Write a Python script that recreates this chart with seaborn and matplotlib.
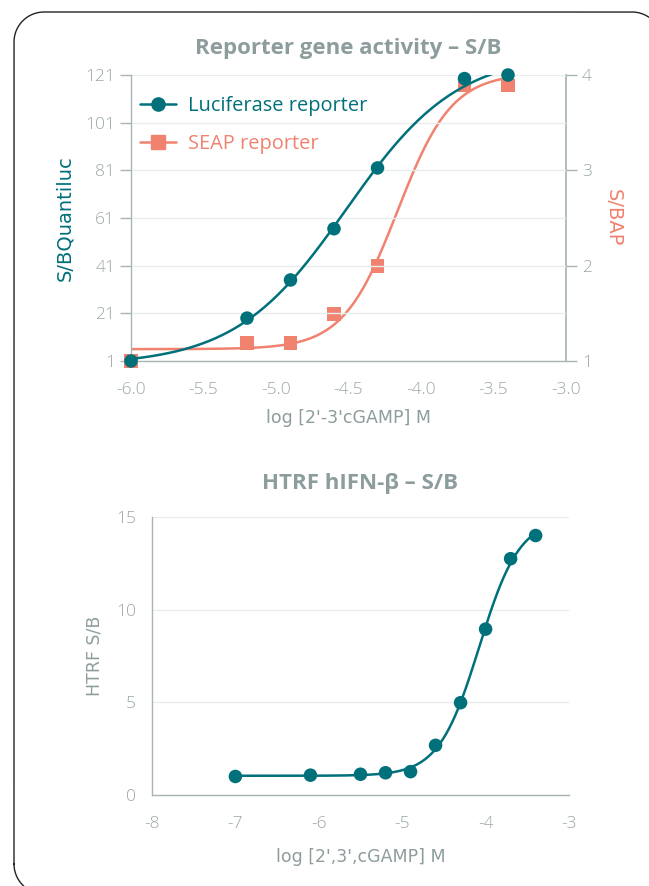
import numpy as np
import pandas as pd
import matplotlib
matplotlib.use('Agg')
import matplotlib.pyplot as plt
import seaborn as sns
from matplotlib.lines import Line2D

# Data

# top panel: reporter gene activity
reporter_log_conc = [-6.0, -5.2, -4.9, -4.6, -4.3, -3.7, -3.4]
luciferase_sb = [1, 19, 35, 56.5, 82, 119.5, 121]
seap_sb = [1.0, 1.19, 1.19, 1.49, 2.0, 3.89, 3.89]

# bottom panel: HTRF hIFN-beta
htrf_log_conc = [-7.0, -6.1, -5.5, -5.2, -4.9, -4.6, -4.3, -4.0, -3.7, -3.4]
htrf_sb = [1.0, 1.07, 1.12, 1.2, 1.26, 2.68, 4.98, 8.95, 12.75, 14.0]

left_ticks_top = [1, 21, 41, 61, 81, 101, 121]
right_ticks_top = [1, 2, 3, 4]
x_ticks_top = [-6.0, -5.5, -5.0, -4.5, -4.0, -3.5, -3.0]
x_ticks_bottom = [-8, -7, -6, -5, -4, -3]
y_ticks_bottom = [0, 5, 10, 15]

TEAL = '#00707a'
SALMON = '#f0826f'
GREY = '#8d9c9d'
TICK_GREY = '#9ba7a8'
SPINE = '#a9b4b5'
GRID = '#e9ecec'
LABEL_FONT = ['DejaVu Sans']
TICK_SIZE = 12.5


def fit_4pl(x, y):
    # four parameter logistic fit: grid over ec50/hill, bottom/top solved linearly
    x = np.asarray(x, float)
    y = np.asarray(y, float)
    ec = np.linspace(x.min(), x.max(), 400)[:, None, None]
    hill = np.linspace(0.3, 5.0, 300)[None, :, None]
    f = 1.0 / (1.0 + 10 ** ((ec - x) * hill))
    fm = f.mean(axis=-1, keepdims=True)
    ym = y.mean()
    c = ((f - fm) * (y - ym)).sum(-1, keepdims=True) / ((f - fm) ** 2).sum(-1, keepdims=True)
    b = ym - c * fm
    sse = ((b + c * f - y) ** 2).sum(-1)
    i, j = np.unravel_index(np.argmin(sse), sse.shape)
    return b[i, j, 0], c[i, j, 0], ec[i, 0, 0], hill[0, j, 0]


def curve(params, x0, x1):
    b, c, ec, h = params
    xs = np.linspace(x0, x1, 300)
    return pd.DataFrame({'x': xs, 'y': b + c / (1 + 10 ** ((ec - xs) * h))})


sns.set_theme(style='white')
plt.rcParams['font.family'] = ['Open Sans', 'DejaVu Sans']
plt.rcParams['axes.unicode_minus'] = False

W, H = 649, 886
fig = plt.figure(figsize=(W / 100, H / 100), dpi=100)

# rounded frame around the page, drawn in pixel coords (top-left origin)
left, top, right, bottom, r = 14, 12, 662, 894, 30
t = np.linspace(0, np.pi / 2, 30)
fx = np.concatenate([
    [left, left], left + r - r * np.cos(t),          # left edge up, top-left arc
    [left + r, right - r], right - r + r * np.sin(t),  # top edge, top-right arc
    [right, right], right - r + r * np.cos(t),        # right edge down, bottom-right arc
    [right - r, left + r], left + r - r * np.sin(t),  # bottom edge, bottom-left arc
])
fy = np.concatenate([
    [bottom - r, top + r], top + r - r * np.sin(t),
    [top, top], top + r - r * np.cos(t),
    [top + r, bottom - r], bottom - r + r * np.sin(t),
    [bottom, bottom], bottom - r + r * np.cos(t),
])
fig.add_artist(Line2D(fx / W, 1 - fy / H, transform=fig.transFigure,
                      color='#222222', linewidth=1.0))


def style_axis(ax):
    for side in ['top', 'right']:
        ax.spines[side].set_visible(False)
    for side in ['left', 'bottom']:
        ax.spines[side].set_color(SPINE)
        ax.spines[side].set_linewidth(1.0)
    ax.tick_params(axis='both', colors=SPINE, labelcolor=TICK_GREY, labelsize=TICK_SIZE,
                   length=8, width=1.0, direction='out')
    ax.tick_params(axis='x', pad=7)
    ax.grid(axis='y', color=GRID, linewidth=1.0)
    ax.set_axisbelow(True)


def light_ticks(ax):
    for lbl in ax.get_xticklabels() + ax.get_yticklabels():
        lbl.set_fontweight('light')


# ---- top panel ----
ax1 = fig.add_axes([131 / W, 1 - 361 / H, 435 / W, 286 / H])
ax2 = ax1.twinx()
style_axis(ax1)

lum_df = pd.DataFrame({'x': reporter_log_conc, 'y': luciferase_sb})
seap_df = pd.DataFrame({'x': reporter_log_conc, 'y': seap_sb})

sns.lineplot(data=curve(fit_4pl(reporter_log_conc, seap_sb), -6.0, -3.4), x='x', y='y',
             ax=ax2, color=SALMON, linewidth=1.8, zorder=2)
sns.scatterplot(data=seap_df, x='x', y='y', ax=ax2, color=SALMON, marker='s', s=100,
                edgecolor='none', zorder=3, clip_on=False)
sns.lineplot(data=curve(fit_4pl(reporter_log_conc, luciferase_sb), -6.0, -3.5), x='x', y='y',
             ax=ax1, color=TEAL, linewidth=1.8, zorder=4)
sns.scatterplot(data=lum_df, x='x', y='y', ax=ax1, color=TEAL, marker='o', s=95,
                edgecolor='none', zorder=5, clip_on=False)

# luciferase drawn above the twin axis
ax1.set_zorder(ax2.get_zorder() + 1)
ax1.patch.set_visible(False)

ax1.set_xlim(-6.0, -3.0)
ax1.set_ylim(1, 121)
ax1.set_yticks(left_ticks_top)
ax1.set_xticks(x_ticks_top)
ax1.set_xticklabels([f'{v:.1f}' for v in x_ticks_top])
ax2.set_ylim(1, 4)
ax2.set_yticks(right_ticks_top)
for side in ['top', 'left', 'bottom']:
    ax2.spines[side].set_visible(False)
ax2.spines['right'].set_color(SPINE)
ax2.tick_params(axis='y', colors=SPINE, labelcolor=TICK_GREY, labelsize=TICK_SIZE,
                length=8, width=1.0, direction='out')
ax2.grid(False)
light_ticks(ax1)
light_ticks(ax2)

ax1.set_xlabel("log [2'-3'cGAMP] M", color=GREY, fontsize=12.5, labelpad=8, family=LABEL_FONT)
ax1.set_ylabel('S/BQuantiluc', color=TEAL, fontsize=14, labelpad=8, family=LABEL_FONT)
ax2.set_ylabel('S/BAP', color=SALMON, fontsize=14, rotation=270, labelpad=22, family=LABEL_FONT)
ax1.set_title('Reporter gene activity – S/B', color=GREY, fontsize=16, fontweight='bold', pad=15)

handles = [
    Line2D([], [], color=TEAL, marker='o', markersize=9.5, linewidth=1.8, label='Luciferase reporter'),
    Line2D([], [], color=SALMON, marker='s', markersize=9.5, linewidth=1.8, label='SEAP reporter'),
]
leg = ax1.legend(handles=handles, loc='upper left', frameon=False, fontsize=14.4,
                 handlelength=1.8, handletextpad=0.6, labelspacing=0.9,
                 bbox_to_anchor=(-0.02, 0.99))
for text, col in zip(leg.get_texts(), [TEAL, SALMON]):
    text.set_color(col)

# ---- bottom panel ----
ax3 = fig.add_axes([152 / W, 1 - 795 / H, 417 / W, 278 / H])
style_axis(ax3)
htrf_df = pd.DataFrame({'x': htrf_log_conc, 'y': htrf_sb})
sns.lineplot(data=curve(fit_4pl(htrf_log_conc, htrf_sb), -7.0, -3.4), x='x', y='y',
             ax=ax3, color=TEAL, linewidth=1.8, zorder=2)
sns.scatterplot(data=htrf_df, x='x', y='y', ax=ax3, color=TEAL, marker='o', s=95,
                edgecolor='none', zorder=3, clip_on=False)
ax3.set_xlim(-8, -3)
ax3.set_ylim(0, 15)
ax3.set_xticks(x_ticks_bottom)
ax3.set_yticks(y_ticks_bottom)
light_ticks(ax3)
ax3.set_xlabel("log [2',3',cGAMP] M", color=GREY, fontsize=12.5, labelpad=12, family=LABEL_FONT)
ax3.set_ylabel('HTRF S/B', color=GREY, fontsize=12.5, labelpad=9, family=LABEL_FONT)
ax3.set_title('HTRF hIFN-β – S/B', color=GREY, fontsize=16, fontweight='bold', pad=20)

fig.savefig('out.png', dpi=100)
